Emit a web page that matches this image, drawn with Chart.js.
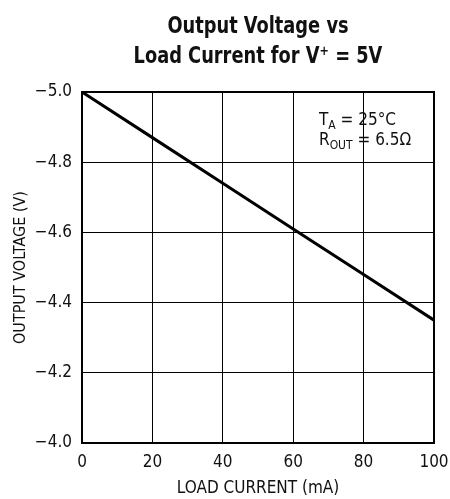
<!DOCTYPE html>
<html>
<head>
<meta charset="utf-8">
<script src="https://cdn.jsdelivr.net/npm/chart.js@4"></script>
<style>
  html, body { margin: 0; padding: 0; background: #fff; }
  #wrap { width: 450px; height: 499px; }
</style>
</head>
<body>
<div id="wrap"><canvas id="chart" width="450" height="499"></canvas></div>
<script>
// --- Data ---
const loadCurrent = [0, 20, 40, 60, 80, 100];              // mA
const outputVoltage = [-5.0, -4.87, -4.74, -4.61, -4.48, -4.35]; // V
const titleLines = ['Output Voltage vs', 'Load Current for V\u207A = 5V'];
const xTitle = 'LOAD CURRENT (mA)';
const yTitle = 'OUTPUT VOLTAGE (V)';

const FONT = "'Liberation Sans Narrow', 'DejaVu Sans Condensed', 'Liberation Sans', sans-serif";

const fmtNeg = v => (v < 0 ? '\u2212' : '') + Math.abs(v).toFixed(1);

// title, frame and note drawn by hand
const extras = {
    id: 'extras',
    afterDraw(chart) {
        const { ctx, chartArea: a } = chart;
        ctx.save();
        // frame
        ctx.strokeStyle = '#000';
        ctx.lineWidth = 2;
        ctx.strokeRect(a.left, a.top, a.right - a.left, a.bottom - a.top);

        // title (squeezed a bit to look condensed)
        const cx = (a.left + a.right) / 2;
        ctx.fillStyle = '#111';
        ctx.textAlign = 'center';
        ctx.textBaseline = 'alphabetic';
        ctx.font = "bold 23px " + FONT;
        ctx.save();
        ctx.translate(cx, 0);
        ctx.scale(0.86, 1);
        ctx.fillText(titleLines[0], 0, 33);
        ctx.fillText(titleLines[1], 0, 63);
        ctx.restore();

        // note
        ctx.textAlign = 'left';
        let x = 319, y = 125;
        ctx.font = "17px " + FONT;
        ctx.fillText('T', x, y);
        let w = ctx.measureText('T').width;
        ctx.font = "12px " + FONT;
        ctx.fillText('A', x + w, y + 4);
        w += ctx.measureText('A').width;
        ctx.font = "17px " + FONT;
        ctx.fillText(' = 25\u00B0C', x + w, y);

        y = 145;
        ctx.fillText('R', x, y);
        w = ctx.measureText('R').width;
        ctx.font = "12px " + FONT;
        ctx.fillText('OUT', x + w, y + 4);
        w += ctx.measureText('OUT').width;
        ctx.font = "17px " + FONT;
        ctx.fillText(' = 6.5\u03A9', x + w, y);
        ctx.restore();
    }
};

const ctx = document.getElementById('chart').getContext('2d');
new Chart(ctx, {
    type: 'scatter',
    data: {
        datasets: [{
            data: loadCurrent.map((x, i) => ({ x: x, y: outputVoltage[i] })),
            showLine: true,
            borderColor: '#000',
            borderWidth: 3,
            pointRadius: 0,
            tension: 0
        }]
    },
    options: {
        responsive: false,
        animation: false,
        layout: { padding: { top: 92, right: 16, left: 0, bottom: 0 } },
        plugins: { legend: { display: false }, tooltip: { enabled: false } },
        scales: {
            x: {
                type: 'linear', min: 0, max: 100,
                ticks: { stepSize: 20, color: '#111', padding: 9, font: { family: FONT, size: 17 }, maxRotation: 0 },
                grid: { color: '#000', lineWidth: 1, drawTicks: false },
                border: { display: false },
                title: { display: true, text: xTitle, color: '#111', font: { family: FONT, size: 17 }, padding: { top: 5, bottom: 0 } },
                afterFit: s => { s.height = 56; s.paddingLeft = 0; s.paddingRight = 0; }
            },
            y: {
                type: 'linear', min: -5, max: -4, reverse: true,
                ticks: { stepSize: 0.2, color: '#111', padding: 10, font: { family: FONT, size: 17 }, callback: v => fmtNeg(v) },
                grid: { color: '#000', lineWidth: 1, drawTicks: false },
                border: { display: false },
                title: { display: true, text: yTitle, color: '#111', font: { family: FONT, size: 16 }, padding: { top: 11, bottom: 8 } },
                afterFit: s => { s.width = 82; }
            }
        }
    },
    plugins: [extras]
});
</script>
</body>
</html>
